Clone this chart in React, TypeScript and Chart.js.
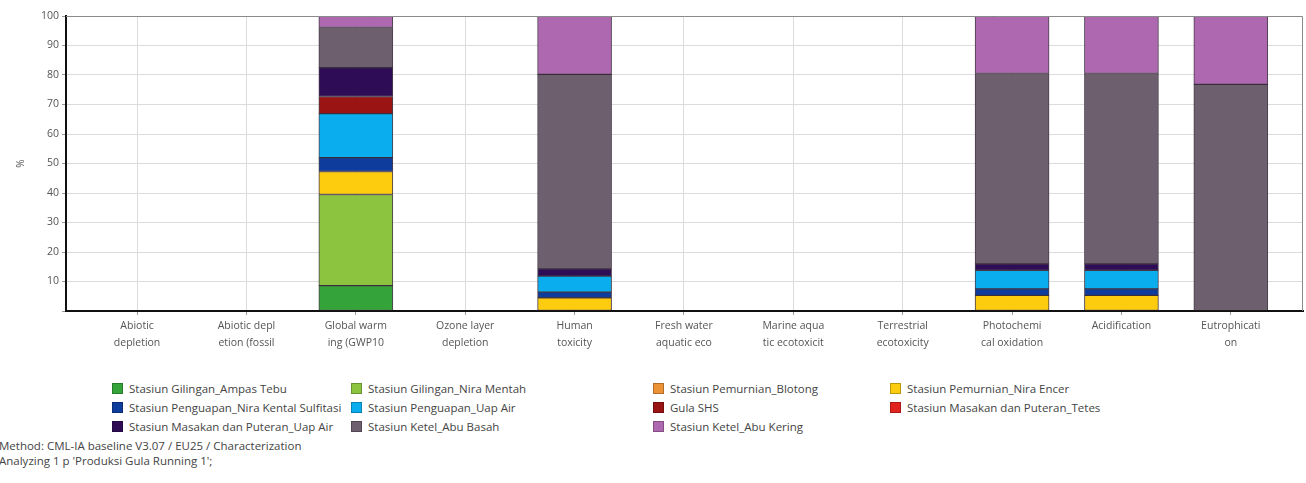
import React, { useEffect, useRef } from "react";
import { Chart, registerables } from "chart.js";

Chart.register(...registerables);

const categories: string[][] = [
  ["Abiotic", "depletion"],
  ["Abiotic depl", "etion (fossil"],
  ["Global warm", "ing (GWP10"],
  ["Ozone layer", "depletion"],
  ["Human", "toxicity"],
  ["Fresh water", "aquatic eco"],
  ["Marine aqua", "tic ecotoxicit"],
  ["Terrestrial", "ecotoxicity"],
  ["Photochemi", "cal oxidation"],
  ["Acidification"],
  ["Eutrophicati", "on"],
];

const seriesNames = [
  "Stasiun Gilingan_Ampas Tebu",
  "Stasiun Gilingan_Nira Mentah",
  "Stasiun Pemurnian_Blotong",
  "Stasiun Pemurnian_Nira Encer",
  "Stasiun Penguapan_Nira Kental Sulfitasi",
  "Stasiun Penguapan_Uap Air",
  "Gula SHS",
  "Stasiun Masakan dan Puteran_Tetes",
  "Stasiun Masakan dan Puteran_Uap Air",
  "Stasiun Ketel_Abu Basah",
  "Stasiun Ketel_Abu Kering",
];

const seriesColors = [
  "#34a33a",
  "#8cc440",
  "#ec9236",
  "#fdcc0e",
  "#0d3c9c",
  "#0aaeee",
  "#9a1414",
  "#e2241f",
  "#2e0c56",
  "#6d5f6e",
  "#ae68b0",
];

const ampasTebu = [0, 0, 8.6, 0, 0, 0, 0, 0, 0, 0, 0];
const niraMentah = [0, 0, 30.9, 0, 0, 0, 0, 0, 0, 0, 0];
const blotong = [0, 0, 0, 0, 0, 0, 0, 0, 0, 0, 0];
const niraEncer = [0, 0, 7.8, 0, 4.5, 0, 0, 0, 5.3, 5.3, 0];
const niraKental = [0, 0, 4.7, 0, 1.9, 0, 0, 0, 2.2, 2.2, 0];
const uapAir = [0, 0, 14.9, 0, 5.4, 0, 0, 0, 6.3, 6.3, 0];
const gulaSHS = [0, 0, 5.8, 0, 0, 0, 0, 0, 0, 0, 0];
const tetes = [0, 0, 0, 0, 0, 0, 0, 0, 0, 0, 0];
const masakanUapAir = [0, 0, 9.8, 0, 2.5, 0, 0, 0, 2.2, 2.2, 0];
const abuBasah = [0, 0, 13.6, 0, 65.9, 0, 0, 0, 64.5, 64.5, 76.8];
const abuKering = [0, 0, 3.9, 0, 19.8, 0, 0, 0, 19.5, 19.5, 23.2];

const seriesValues = [
  ampasTebu,
  niraMentah,
  blotong,
  niraEncer,
  niraKental,
  uapAir,
  gulaSHS,
  tetes,
  masakanUapAir,
  abuBasah,
  abuKering,
];

const yTicks = [10, 20, 30, 40, 50, 60, 70, 80, 90, 100];

const footerLines = [
  "Method: CML-IA baseline V3.07 / EU25 / Characterization",
  "Analyzing 1 p 'Produksi Gula Running 1';",
];

const FONT = "'Open Sans', 'Noto Sans', sans-serif";

const legendColumns = [112, 351, 653, 890];
const legendRows = [388, 407, 426];

export default function App() {
  const canvasRef = useRef<HTMLCanvasElement | null>(null);

  useEffect(() => {
    document.body.style.margin = "0";
    const canvas = canvasRef.current;
    if (!canvas) return;

    const framePlugin = {
      id: "frame",
      afterDraw(chart: any) {
        const { ctx, chartArea } = chart;
        ctx.save();
        ctx.strokeStyle = "#8a8a8a";
        ctx.lineWidth = 1;
        ctx.beginPath();
        ctx.moveTo(chartArea.left, chartArea.top + 0.5);
        ctx.lineTo(chartArea.right - 0.5, chartArea.top + 0.5);
        ctx.lineTo(chartArea.right - 0.5, chartArea.bottom);
        ctx.stroke();
        ctx.restore();
      },
    };

    const chart = new Chart(canvas, {
      type: "bar",
      data: {
        datasets: seriesNames.map((name, si) => ({
          label: name,
          data: seriesValues[si].map((v, ci) => ({ x: ci, y: v === 0 ? null : v })),
          backgroundColor: seriesColors[si],
          borderColor: "rgba(40,28,44,0.85)",
          borderWidth: 1,
          borderSkipped: false,
          barThickness: 74,
        })) as any,
      },
      options: {
        animation: false,
        responsive: false,
        maintainAspectRatio: false,
        layout: { padding: { left: 0, right: 3, top: 16, bottom: 0 } },
        plugins: {
          legend: { display: false },
          tooltip: { enabled: false },
        },
        scales: {
          x: {
            type: "linear",
            stacked: true,
            offset: false,
            min: -0.65,
            max: 10.66,
            afterFit(scale: any) {
              scale.height = 49;
            },
            afterBuildTicks(scale: any) {
              scale.ticks = categories.map((_, i) => ({ value: i }));
            },
            ticks: {
              stepSize: 1,
              includeBounds: false,
              autoSkip: false,
              maxRotation: 0,
              padding: 3,
              color: "#555",
              font: { family: FONT, size: 10.5, lineHeight: 1.6 },
              callback: (v: any) => categories[v] ?? "",
            },
            grid: {
              color: "#dcdcdc",
              tickColor: "#9a9a9a",
              tickLength: 4,
              offset: false,
            },
            border: { color: "#111", width: 2 },
          },
          y: {
            stacked: true,
            min: 0,
            max: 100,
            afterFit(scale: any) {
              scale.width = 66;
            },
            afterBuildTicks(scale: any) {
              scale.ticks = [{ value: 0 }, ...yTicks.map((v) => ({ value: v }))];
            },
            ticks: {
              stepSize: 10,
              padding: 3,
              color: "#555",
              font: { family: FONT, size: 10.5 },
              callback: (v: any) => (v === 0 ? "" : String(v)),
            },
            grid: {
              color: "#dcdcdc",
              tickColor: "#9a9a9a",
              tickLength: 4,
            },
            border: { color: "#111", width: 2 },
            title: {
              display: true,
              text: "%",
              color: "#555",
              font: { family: FONT, size: 10 },
              padding: { top: 15, bottom: 0 },
            },
          },
        },
      },
      plugins: [framePlugin],
    });

    return () => chart.destroy();
  }, []);

  return (
    <div
      style={{
        position: "fixed",
        left: 0,
        top: 0,
        width: 1306,
        height: 483,
        background: "#fff",
        fontFamily: FONT,
        overflow: "hidden",
      }}
    >
      <canvas ref={canvasRef} width={1306} height={360} style={{ position: "absolute", left: 0, top: 0 }} />
      {seriesNames.map((name, i) => {
        const col = i % 4;
        const row = Math.floor(i / 4);
        return (
          <div
            key={name}
            style={{
              position: "absolute",
              left: legendColumns[col],
              top: legendRows[row] - 7,
              height: 14,
              display: "flex",
              alignItems: "center",
              whiteSpace: "nowrap",
              fontSize: 11.5,
              color: "#444",
            }}
          >
            <span
              style={{
                display: "inline-block",
                width: 11,
                height: 11,
                background: seriesColors[i],
                border: "1px solid rgba(0,0,0,0.25)",
                marginRight: 6,
                boxSizing: "border-box",
              }}
            />
            {name}
          </div>
        );
      })}
      {footerLines.map((t, i) => (
        <div
          key={t}
          style={{
            position: "absolute",
            left: -1,
            top: 438 + i * 15,
            fontSize: 11.5,
            color: "#444",
            whiteSpace: "nowrap",
          }}
        >
          {t}
        </div>
      ))}
    </div>
  );
}
